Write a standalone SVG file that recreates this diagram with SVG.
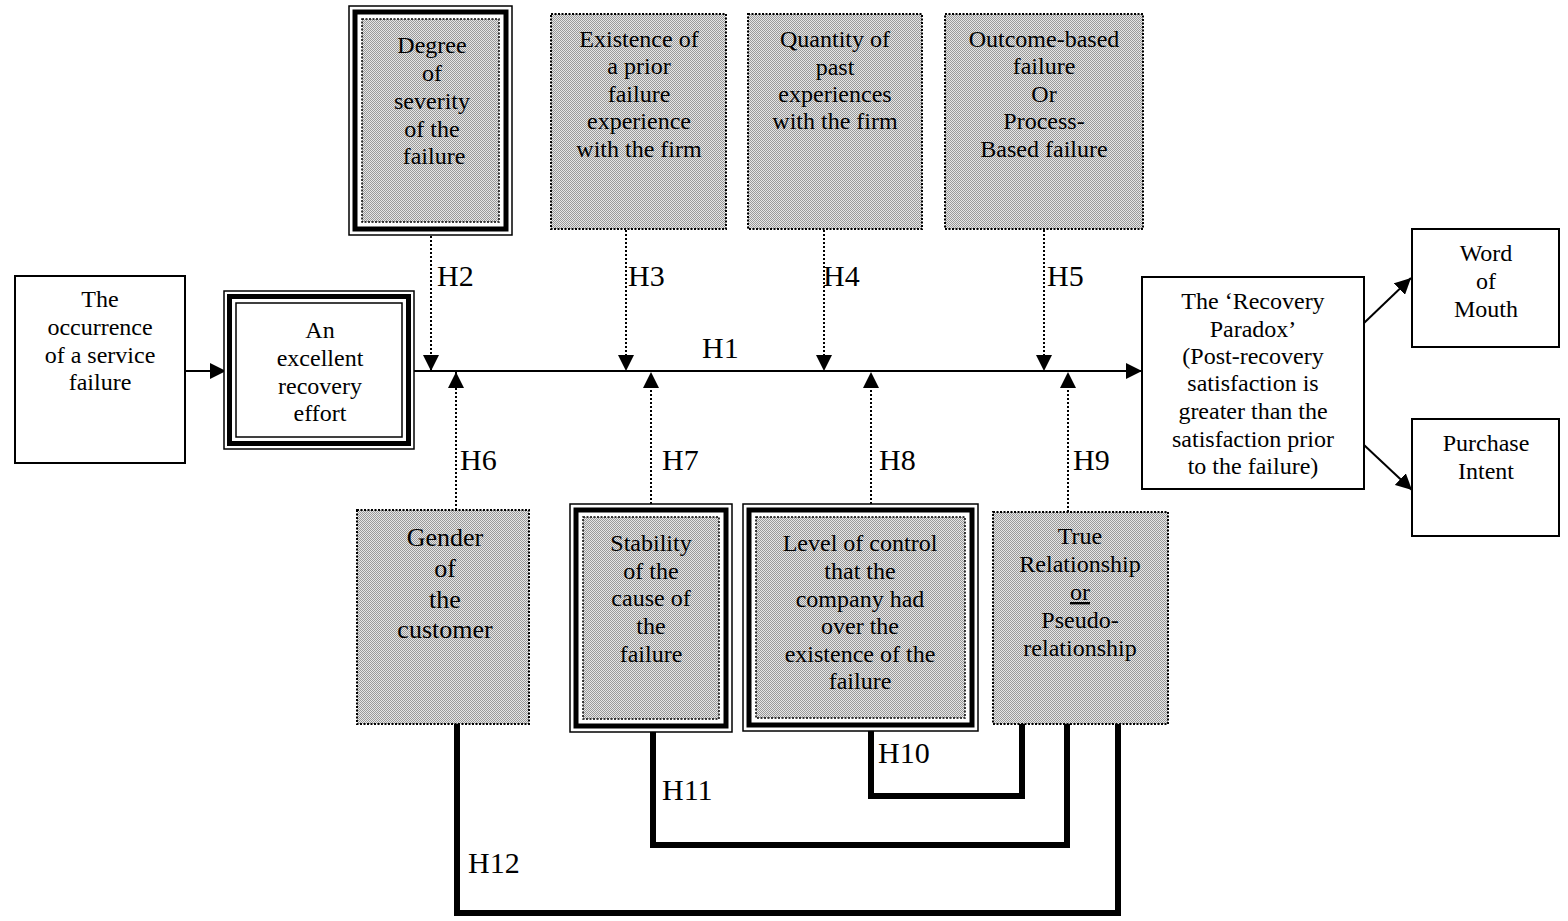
<svg xmlns="http://www.w3.org/2000/svg" width="1568" height="921" viewBox="0 0 1568 921">
<defs>
<pattern id="shade" patternUnits="userSpaceOnUse" width="2" height="2">
<rect width="2" height="2" fill="#e6e6e6"/>
<rect width="1" height="1" fill="#9a9a9a"/>
<rect x="1" y="1" width="1" height="1" fill="#9a9a9a"/>
</pattern>
<marker id="ah" viewBox="0 0 16 16" refX="16" refY="8" markerWidth="16" markerHeight="16" markerUnits="userSpaceOnUse" orient="auto">
<path d="M0,0 L16,8 L0,16 Z" fill="#000"/>
</marker>
</defs>
<style>
text{font-family:"Liberation Serif","Times New Roman",serif;font-size:24px;fill:#000;text-anchor:middle}
.h{font-size:30px;text-anchor:start}
.g{font-size:26px}
.plain{fill:#fff;stroke:#000;stroke-width:2}
.dot{fill:url(#shade);stroke:#000;stroke-width:2;stroke-dasharray:2 1.5}
.o{fill:#fff;stroke:#000;stroke-width:1.5}
.t{fill:none;stroke:#000;stroke-width:5}
.iw{fill:#fff;stroke:#000;stroke-width:1.5}
.is{fill:url(#shade);stroke:#000;stroke-width:1.5;stroke-dasharray:2 1.5}
.dl{fill:none;stroke:#000;stroke-width:2;stroke-dasharray:2 2}
.ln{fill:none;stroke:#000;stroke-width:2}
.thick{fill:none;stroke:#000;stroke-width:6;stroke-linejoin:miter}
</style>
<rect width="1568" height="921" fill="#fff"/>

<g id="connectors">
<line class="ln" x1="185" y1="371" x2="226" y2="371" marker-end="url(#ah)"/>
<line class="ln" x1="414" y1="371" x2="1142" y2="371" marker-end="url(#ah)"/>
<line class="dl" x1="431" y1="236" x2="431" y2="371" marker-end="url(#ah)"/>
<line class="dl" x1="626" y1="230" x2="626" y2="371" marker-end="url(#ah)"/>
<line class="dl" x1="824" y1="230" x2="824" y2="371" marker-end="url(#ah)"/>
<line class="dl" x1="1044" y1="230" x2="1044" y2="371" marker-end="url(#ah)"/>
<line class="dl" x1="456" y1="510" x2="456" y2="372" marker-end="url(#ah)"/>
<line class="dl" x1="651" y1="504" x2="651" y2="372" marker-end="url(#ah)"/>
<line class="dl" x1="871" y1="504" x2="871" y2="372" marker-end="url(#ah)"/>
<line class="dl" x1="1068" y1="512" x2="1068" y2="372" marker-end="url(#ah)"/>
<line class="ln" x1="1364" y1="323" x2="1411" y2="278" marker-end="url(#ah)"/>
<line class="ln" x1="1364" y1="445" x2="1412" y2="490" marker-end="url(#ah)"/>
<polyline class="thick" points="871,731 871,796 1022,796 1022,724"/>
<polyline class="thick" points="653,731 653,845 1067,845 1067,724"/>
<polyline class="thick" points="457,724 457,913 1118,913 1118,724"/>
<text class="h" x="702" y="358">H1</text>
<text class="h" x="437" y="286">H2</text>
<text class="h" x="628" y="286">H3</text>
<text class="h" x="823" y="286">H4</text>
<text class="h" x="1047" y="286">H5</text>
<text class="h" x="460" y="470">H6</text>
<text class="h" x="662" y="470">H7</text>
<text class="h" x="879" y="470">H8</text>
<text class="h" x="1073" y="470">H9</text>
<text class="h" x="878" y="763">H10</text>
<text class="h" x="662" y="800">H11</text>
<text class="h" x="468" y="873">H12</text>
</g>

<g id="occurrence">
<rect class="plain" x="15" y="276" width="170" height="187"/>
<text x="100" y="307">The</text>
<text x="100" y="335">occurrence</text>
<text x="100" y="363">of a service</text>
<text x="100" y="390">failure</text>
</g>

<g id="recovery-effort">
<rect class="o" x="224" y="291" width="190" height="158"/>
<rect class="t" x="229.5" y="296.5" width="179" height="147"/>
<rect class="iw" x="236" y="303" width="166" height="134"/>
<text x="320" y="338">An</text>
<text x="320" y="366">excellent</text>
<text x="320" y="394">recovery</text>
<text x="320" y="421">effort</text>
</g>

<g id="severity">
<rect class="o" x="349" y="6" width="163" height="229"/>
<rect class="t" x="355" y="12" width="151" height="217"/>
<rect class="is" x="362" y="19" width="137" height="203"/>
<text x="432" y="53">Degree</text>
<text x="432" y="81">of</text>
<text x="432" y="109">severity</text>
<text x="432" y="137">of the</text>
<text x="434" y="164">failure</text>
</g>

<g id="prior-failure">
<rect class="dot" x="551" y="14" width="175" height="215"/>
<text x="639" y="47">Existence of</text>
<text x="639" y="74">a prior</text>
<text x="639" y="102">failure</text>
<text x="639" y="129">experience</text>
<text x="639" y="157">with the firm</text>
</g>

<g id="past-experiences">
<rect class="dot" x="748" y="14" width="174" height="215"/>
<text x="835" y="47">Quantity of</text>
<text x="835" y="75">past</text>
<text x="835" y="102">experiences</text>
<text x="835" y="129">with the firm</text>
</g>

<g id="outcome-process">
<rect class="dot" x="945" y="14" width="198" height="215"/>
<text x="1044" y="47">Outcome-based</text>
<text x="1044" y="74">failure</text>
<text x="1044" y="102">Or</text>
<text x="1044" y="129">Process-</text>
<text x="1044" y="157">Based failure</text>
</g>

<g id="recovery-paradox">
<rect class="plain" x="1142" y="277" width="222" height="212"/>
<text x="1253" y="309">The ‘Recovery</text>
<text x="1253" y="337">Paradox’</text>
<text x="1253" y="364">(Post-recovery</text>
<text x="1253" y="391">satisfaction is</text>
<text x="1253" y="419">greater than the</text>
<text x="1253" y="447">satisfaction prior</text>
<text x="1253" y="474">to the failure)</text>
</g>

<g id="word-of-mouth">
<rect class="plain" x="1412" y="229" width="147" height="118"/>
<text x="1486" y="261">Word</text>
<text x="1486" y="289">of</text>
<text x="1486" y="317">Mouth</text>
</g>

<g id="purchase-intent">
<rect class="plain" x="1412" y="419" width="147" height="117"/>
<text x="1486" y="451">Purchase</text>
<text x="1486" y="479">Intent</text>
</g>

<g id="gender">
<rect class="dot" x="357" y="510" width="172" height="214"/>
<text class="g" x="445" y="546">Gender</text>
<text class="g" x="445" y="577">of</text>
<text class="g" x="445" y="608">the</text>
<text class="g" x="445" y="638">customer</text>
</g>

<g id="stability">
<rect class="o" x="570" y="504" width="162" height="228"/>
<rect class="t" x="576" y="510" width="150" height="216"/>
<rect class="is" x="583" y="517" width="136" height="202"/>
<text x="651" y="551">Stability</text>
<text x="651" y="579">of the</text>
<text x="651" y="606">cause of</text>
<text x="651" y="634">the</text>
<text x="651" y="662">failure</text>
</g>

<g id="control">
<rect class="o" x="743" y="504" width="235" height="227"/>
<rect class="t" x="749" y="510" width="223" height="215"/>
<rect class="is" x="756" y="517" width="209" height="201"/>
<text x="860" y="551">Level of control</text>
<text x="860" y="579">that the</text>
<text x="860" y="607">company had</text>
<text x="860" y="634">over the</text>
<text x="860" y="662">existence of the</text>
<text x="860" y="689">failure</text>
</g>

<g id="relationship">
<rect class="dot" x="993" y="512" width="175" height="212"/>
<text x="1080" y="544">True</text>
<text x="1080" y="572">Relationship</text>
<text x="1080" y="600" text-decoration="underline">or</text>
<text x="1080" y="628">Pseudo-</text>
<text x="1080" y="656">relationship</text>
</g>
</svg>
